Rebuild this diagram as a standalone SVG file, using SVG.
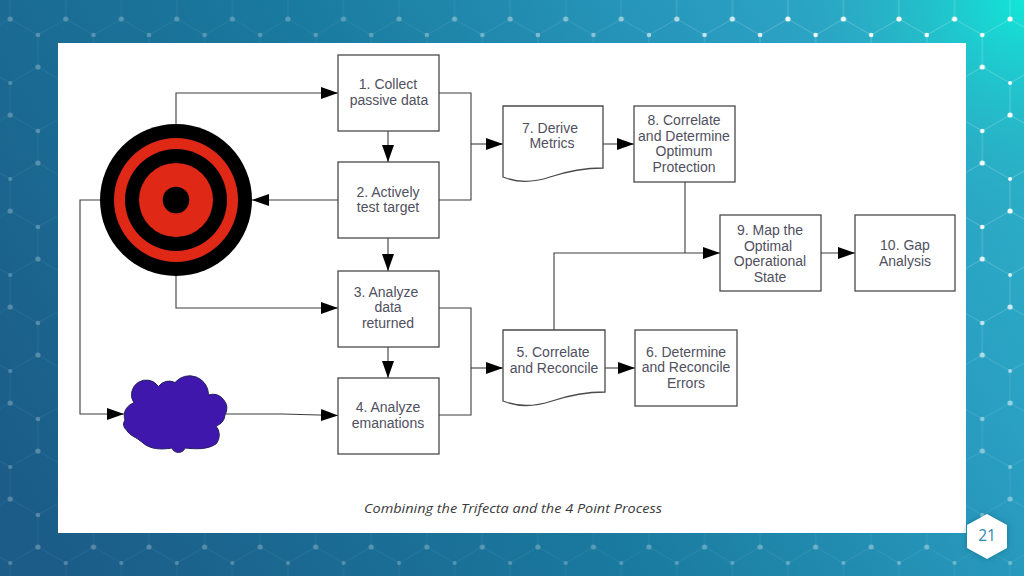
<svg xmlns="http://www.w3.org/2000/svg" width="1024" height="576" viewBox="0 0 1024 576">
<defs>
<linearGradient id="bg" gradientUnits="userSpaceOnUse" x1="60" y1="576" x2="1000" y2="0">
<stop offset="0" stop-color="#1b5c88"/><stop offset="0.45" stop-color="#1a7a9f"/><stop offset="0.8" stop-color="#2a9fc2"/><stop offset="1" stop-color="#2cb4c8"/>
</linearGradient>
<radialGradient id="glow" gradientUnits="userSpaceOnUse" cx="1024" cy="0" r="230">
<stop offset="0" stop-color="#12e6d8"/><stop offset="0.5" stop-color="#20c4cc" stop-opacity="0.6"/><stop offset="1" stop-color="#2aa8c4" stop-opacity="0"/>
</radialGradient>
<radialGradient id="fade" gradientUnits="userSpaceOnUse" cx="1024" cy="0" r="680">
<stop offset="0" stop-color="#fff"/><stop offset="0.35" stop-color="#eee"/><stop offset="0.62" stop-color="#777"/><stop offset="1" stop-color="#444"/>
</radialGradient>
<pattern id="hex" patternUnits="userSpaceOnUse" x="-3.675" y="11" width="55.55" height="96">
<path d="M13.875 72V96M13.875 0V8L41.625 24L55.55 16M0 16L13.875 8M41.625 24V56L13.875 72L0 64M55.55 64L41.625 56" fill="none" stroke="#fff" stroke-width="0.6" stroke-opacity="0.4"/>
<circle cx="13.875" cy="8" r="2.6" fill="#fff"/><circle cx="41.625" cy="24" r="2.3" fill="#fff"/><circle cx="41.625" cy="56" r="2.6" fill="#fff"/><circle cx="13.875" cy="72" r="2" fill="#fff"/>
</pattern>
<mask id="m" maskUnits="userSpaceOnUse" x="0" y="0" width="1024" height="576"><rect width="1024" height="576" fill="url(#fade)"/></mask>
<marker id="a" markerUnits="userSpaceOnUse" markerWidth="18" markerHeight="13" refX="17" refY="6" orient="auto"><path d="M0 0L17 6L0 12Z" fill="#000"/></marker>
<filter id="sh" x="-30%" y="-30%" width="160%" height="160%"><feGaussianBlur stdDeviation="3"/></filter>
</defs>
<style>
.b{fill:#fff;stroke:#4a4a4a;stroke-width:1.3}
.c{fill:none;stroke:#3c3c3c;stroke-width:1.1}
.t{font-family:"Liberation Sans",Arial,sans-serif;font-size:14px;fill:#50505e;text-anchor:middle}
</style>
<g id="background">
<rect width="1024" height="576" fill="url(#bg)"/>
<rect width="1024" height="576" fill="url(#glow)"/>
<rect width="1024" height="576" fill="url(#hex)" mask="url(#m)"/>
<rect x="58" y="43" width="908" height="490" fill="#fff"/>
</g>
<g id="connectors">
<path class="c" d="M176 124V93H338" marker-end="url(#a)"/>
<path class="c" d="M388 131V162" marker-end="url(#a)"/>
<path class="c" d="M439 93H471V200H439"/>
<path class="c" d="M471 144H503" marker-end="url(#a)"/>
<path class="c" d="M338 200H252" marker-end="url(#a)"/>
<path class="c" d="M388 238V271" marker-end="url(#a)"/>
<path class="c" d="M388 347V378" marker-end="url(#a)"/>
<path class="c" d="M176 276V308H338" marker-end="url(#a)"/>
<path class="c" d="M100 200H80V414H124" marker-end="url(#a)"/>
<path class="c" d="M226 414H282L338 415.5" marker-end="url(#a)"/>
<path class="c" d="M439 308H471V415H439"/>
<path class="c" d="M471 368H503" marker-end="url(#a)"/>
<path class="c" d="M603 144H634" marker-end="url(#a)"/>
<path class="c" d="M605 368H635" marker-end="url(#a)"/>
<path class="c" d="M685 182V253"/>
<path class="c" d="M554 330V253H720" marker-end="url(#a)"/>
<path class="c" d="M821 253H855" marker-end="url(#a)"/>
</g>
<g id="target">
<circle cx="176" cy="200" r="76" fill="#000"/><circle cx="176" cy="200" r="62" fill="#e02817"/><circle cx="176" cy="200" r="51" fill="#000"/><circle cx="176" cy="200" r="37" fill="#e02817"/><circle cx="176" cy="200" r="13.3" fill="#000"/>
</g>
<g id="cloud">
<path d="M125 420A13 13 0 0 1 134 403A14 14 0 0 1 158.500 386.500A13 13 0 0 1 175 382.500A19 19 0 0 1 208.500 395A14 14 0 0 1 225 415A13 13 0 0 1 216 426A14 14 0 0 1 216.500 443.500C208 450 195 449 185 448A7 7 0 0 1 172 448C160 450 150 449 143 443C135 436 130 436 126.500 430A7 7 0 0 1 125 420Z" fill="#3f17ad" stroke="#22205a" stroke-width="1"/>
</g>
<g id="n1"><rect class="b" x="338" y="55" width="101" height="76"/><text class="t" x="388" y="89">1. Collect</text><text class="t" x="389" y="104.500">passive data</text></g>
<g id="n2"><rect class="b" x="338" y="162" width="101" height="76"/><text class="t" x="388" y="196.500">2. Actively</text><text class="t" x="388" y="212">test target</text></g>
<g id="n3"><rect class="b" x="338" y="271" width="101" height="76"/><text class="t" x="386" y="296.500">3. Analyze</text><text class="t" x="388" y="312">data</text><text class="t" x="388" y="327.500">returned</text></g>
<g id="n4"><rect class="b" x="338" y="378" width="101" height="76"/><text class="t" x="388" y="412">4. Analyze</text><text class="t" x="388" y="427.500">emanations</text></g>
<g id="n7"><path class="b" d="M503 106H603V168C585 168 565 172 550 177C535 182 520 184 503 177Z"/><text class="t" x="550" y="133">7. Derive</text><text class="t" x="552" y="148">Metrics</text></g>
<g id="n8"><rect class="b" x="634" y="106" width="101" height="76"/><text class="t" x="684" y="125">8. Correlate</text><text class="t" x="684" y="140.500">and Determine</text><text class="t" x="684" y="156">Optimum</text><text class="t" x="684" y="172">Protection</text></g>
<g id="n9"><rect class="b" x="720" y="215" width="101" height="76"/><text class="t" x="770" y="235">9. Map the</text><text class="t" x="768" y="250.500">Optimal</text><text class="t" x="770" y="266">Operational</text><text class="t" x="770" y="281.500">State</text></g>
<g id="n10"><rect class="b" x="855" y="215" width="100" height="76"/><text class="t" x="905" y="250">10. Gap</text><text class="t" x="905" y="265.500">Analysis</text></g>
<g id="n5"><path class="b" d="M503 330H605V392C587 392 567 396 552 401C537 406 520 408 503 401Z"/><text class="t" x="553" y="357">5. Correlate</text><text class="t" x="554" y="372.500">and Reconcile</text></g>
<g id="n6"><rect class="b" x="635" y="330" width="102" height="76"/><text class="t" x="686" y="356.500">6. Determine</text><text class="t" x="686" y="372">and Reconcile</text><text class="t" x="686" y="387.500">Errors</text></g>
<text id="caption" x="513" y="513" text-anchor="middle" font-family="'Open Sans',sans-serif" font-style="italic" font-size="13.500" fill="#3a3a3a" textLength="298" lengthAdjust="spacingAndGlyphs">Combining the Trifecta and the 4 Point Process</text>
<g id="page">
<path d="M987 514L1007 525V548L987 559L967 548V525Z" fill="#0a3a55" opacity="0.35" filter="url(#sh)"/>
<path d="M987 514L1007 525V548L987 559L967 548V525Z" fill="#fff"/>
<text x="987" y="541" text-anchor="middle" font-family="'Open Sans',sans-serif" font-size="15.500" fill="#2f88ab">21</text>
</g>
</svg>
